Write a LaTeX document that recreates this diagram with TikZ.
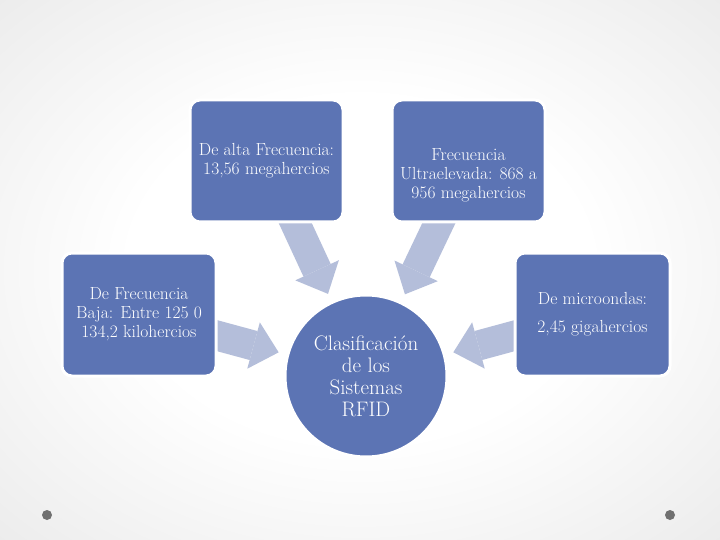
\documentclass[tikz,border=0pt]{standalone}
\usepackage{tikz}
\usetikzlibrary{positioning, arrows.meta}
\definecolor{boxblue}{RGB}{92,116,180}
\definecolor{arrowblue}{RGB}{180,190,218}
\definecolor{bgedge}{RGB}{222,222,222}
\definecolor{bgcorner}{RGB}{200,200,200}
\definecolor{dotgrey}{RGB}{112,112,112}
\pgfdeclarelayer{back}
\pgfsetlayers{back,main}
\pgfdeclareradialshading{pageshade}{\pgfpoint{0bp}{0bp}}{color(0bp)=(white); color(16bp)=(white); color(50bp)=(bgedge); color(72bp)=(bgcorner)}

\begin{document}
\begin{tikzpicture}[x=1pt, y=-1pt,
  freqtext/.style={text=white, align=center, font=\fontsize{17.5}{19}\selectfont},
  freqbox/.style={freqtext, draw=white, line width=3pt, fill=boxblue, rounded corners=10pt, minimum width=153pt, minimum height=122pt, inner sep=2pt},
  hub/.style={draw=white, line width=3pt, fill=boxblue, circle, minimum size=162pt, inner sep=0pt, text=white, align=center, font=\fontsize{21}{22}\selectfont},
  bigarrow/.style={draw=arrowblue, line width=30pt, -{Triangle[length=26pt, width=48pt, line width=0pt]}, shorten >=8pt}]
\useasboundingbox (0,0) rectangle (720,540);

% centre and the four bands
\node[hub] (rfid) at (366,376) {Clasificación\\de los\\Sistemas\\RFID};
\node[freqbox] (alta) at (266.5,161) {De alta Frecuencia:\\13,56 megahercios};
\node[freqbox, right=46pt of alta, label={[freqtext, yshift=-14pt]center:{Frecuencia\\Ultraelevada: 868 a\\956 megahercios}}] (uhf) {};
\node[freqbox, minimum width=154pt, minimum height=123pt] (baja) at (139,314.5) {De Frecuencia\\Baja: Entre 125 0\\134,2 kilohercios};
\node[freqbox, minimum width=155pt, minimum height=123pt, font=\fontsize{17.5}{28}\selectfont] (micro) at (592.5,314.5) {De microondas:\\2,45 gigahercios};

\begin{pgfonlayer}{back}
\shade[shading=pageshade] (0,0) rectangle (720,540);
\draw[bigarrow] (alta.center) -- (rfid);
\draw[bigarrow] (uhf.center) -- (rfid);
\draw[bigarrow] (baja.center) -- (rfid);
\draw[bigarrow] (micro.center) -- (rfid);
\end{pgfonlayer}

\fill[dotgrey] (47,515) circle (5pt);
\fill[dotgrey] (670,515) circle (5pt);
\end{tikzpicture}
\end{document}
